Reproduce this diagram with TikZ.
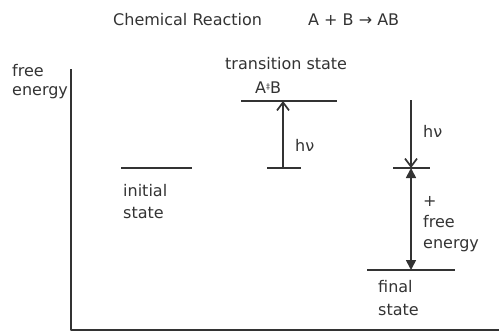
\documentclass[tikz,border=0pt]{standalone}
\usepackage{fontspec}
\setmainfont{DejaVu Sans}
\usetikzlibrary{arrows.meta}
\definecolor{inkgrey}{HTML}{333333}

\begin{document}
\begin{tikzpicture}[
  x=1pt,
  y=-1pt,
  line join=round,
  level/.style={draw=inkgrey,line width=1.8pt},
  axisline/.style={draw=inkgrey,line width=1.8pt},
  photon/.style={draw=inkgrey,line width=1.7pt,-{Straight Barb[length=8pt,width=12pt,line width=1.7pt]}},
  release/.style={draw=inkgrey,line width=1.7pt,{Triangle[length=10pt,width=10pt]}-{Triangle[length=10pt,width=10pt]}},
  lbl/.style={inner sep=0pt,anchor=base west,text=inkgrey,font=\fontsize{16}{19}\selectfont}
]
  \useasboundingbox (0,0) rectangle (499,332);

  % Title line.
  \node[lbl] (title) at (113,26) {Chemical Reaction};
  \node[lbl] (eqn) at (308,26) {A + B → AB};

  % Free energy axes.
  \coordinate (axtop) at (71,69);
  \coordinate (axorg) at (71,330);
  \coordinate (axend) at (499,330);
  \draw[axisline] (axtop) -- (axorg) -- (axend);
  \node[lbl] (yfree) at (12,76) {free};
  \node[lbl] (yenergy) at (12,95) {energy};

  % Energy levels.
  \coordinate (iniL) at (121,168);
  \coordinate (iniR) at (192,168);
  \coordinate (tsL) at (241,101);
  \coordinate (tsR) at (337,101);
  \coordinate (exL) at (267,168);
  \coordinate (exR) at (301,168);
  \coordinate (midL) at (393,168);
  \coordinate (midR) at (430,168);
  \coordinate (finL) at (367,270);
  \coordinate (finR) at (455,270);
  \draw[level] (iniL) -- (iniR);
  \draw[level] (tsL) -- (tsR);
  \draw[level] (exL) -- (exR);
  \draw[level] (midL) -- (midR);
  \draw[level] (finL) -- (finR);

  % Transitions.
  \coordinate (exup) at (283,168);
  \coordinate (tsdn) at (283,101);
  \coordinate (lighttop) at (411,100);
  \coordinate (midpt) at (411,168);
  \coordinate (finpt) at (411,270);
  \draw[photon] (exup) -- (tsdn);
  \draw[photon] (lighttop) -- (midpt);
  \draw[release] (midpt) -- (finpt);

  % Labels.
  \node[lbl] (inilbl) at (123,196) {initial};
  \node[lbl] (inilbl2) at (123,218) {state};
  \node[lbl] (tslbl) at (225,70) {transition state};
  \node[lbl] (tscplx) at (255,93) {A\raisebox{0.35ex}{\fontsize{8}{8}\selectfont ‡}B};
  \node[lbl] (hvup) at (295,151) {hν};
  \node[lbl] (hvdn) at (423,137) {hν};
  \node[lbl] (plus) at (423,206) {+};
  \node[lbl] (relfree) at (423,227) {free};
  \node[lbl] (relenergy) at (423,248) {energy};
  \node[lbl] (finlbl) at (378,292) {final};
  \node[lbl] (finlbl2) at (378,315) {state};
\end{tikzpicture}
\end{document}
